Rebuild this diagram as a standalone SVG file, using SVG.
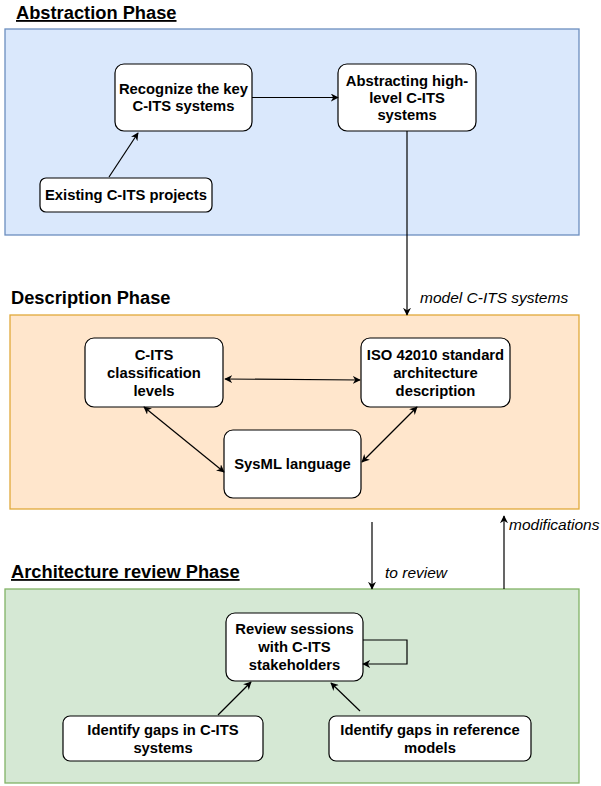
<svg xmlns="http://www.w3.org/2000/svg" width="601" height="786" viewBox="0 0 601 786">
<defs>
<marker id="ah" viewBox="0 0 10 10" refX="9" refY="5" markerWidth="8" markerHeight="8" markerUnits="userSpaceOnUse" orient="auto-start-reverse">
<path d="M0,0 L10,5 L0,10 L3,5 Z" fill="#000"/>
</marker>
</defs>
<style>
.title{font-family:"Liberation Sans",Arial,sans-serif;font-weight:bold;font-size:18.3px;fill:#000}
.node rect{fill:#fff;stroke:#000;stroke-width:1.2}
.node text{font-family:"Liberation Sans",Arial,sans-serif;font-weight:bold;font-size:14.8px;fill:#000;text-anchor:middle}
.lbl{font-family:"Liberation Sans",Arial,sans-serif;font-style:italic;font-size:15.5px;fill:#000}
.conn path{fill:none;stroke:#000;stroke-width:1.2}
</style>
<rect id="phase1" x="5" y="29" width="574" height="206" fill="#dae8fc" stroke="#6c8ebf" stroke-width="1.3"/>
<rect id="phase2" x="10" y="315" width="569" height="194" fill="#ffe6cc" stroke="#e0a93a" stroke-width="1.3"/>
<rect id="phase3" x="5" y="589" width="574" height="194" fill="#d5e8d4" stroke="#82b366" stroke-width="1.3"/>
<text class="title" x="16" y="19" text-decoration="underline">Abstraction Phase</text>
<text class="title" x="11" y="304">Description Phase</text>
<text class="title" x="11" y="578" text-decoration="underline">Architecture review Phase</text>
<text class="lbl" x="420" y="303">model C-ITS systems</text>
<text class="lbl" x="385" y="578">to review</text>
<text class="lbl" x="509" y="530">modifications</text>
<g id="n1" class="node"><rect x="115" y="64" width="137" height="67" rx="9"/><text x="183.5" y="94">Recognize the key</text><text x="183.5" y="111">C-ITS systems</text></g>
<g id="n2" class="node"><rect x="338" y="64" width="138" height="67" rx="9"/><text x="407" y="86">Abstracting high-</text><text x="407" y="103">level C-ITS</text><text x="407" y="120">systems</text></g>
<g id="n3" class="node"><rect x="40" y="178" width="172" height="34" rx="6"/><text x="126" y="200">Existing C-ITS projects</text></g>
<g id="n4" class="node"><rect x="85" y="338" width="138" height="69" rx="9"/><text x="154" y="360">C-ITS</text><text x="154" y="378">classification</text><text x="154" y="396">levels</text></g>
<g id="n5" class="node"><rect x="361" y="338" width="149" height="69" rx="9"/><text x="435.5" y="360">ISO 42010 standard</text><text x="435.5" y="378">architecture</text><text x="435.5" y="396">description</text></g>
<g id="n6" class="node"><rect x="224" y="430" width="137" height="68" rx="9"/><text x="292.5" y="469">SysML language</text></g>
<g id="n7" class="node"><rect x="226" y="613" width="137" height="68" rx="9"/><text x="294.5" y="634">Review sessions</text><text x="294.5" y="652">with C-ITS</text><text x="294.5" y="670">stakeholders</text></g>
<g id="n8" class="node"><rect x="63" y="716" width="200" height="45" rx="7"/><text x="163" y="735">Identify gaps in C-ITS</text><text x="163" y="753">systems</text></g>
<g id="n9" class="node"><rect x="329" y="716" width="202" height="45" rx="7"/><text x="430" y="735">Identify gaps in reference</text><text x="430" y="753">models</text></g>
<g id="connectors" class="conn">
<path d="M252,97.5 L338,97.5" marker-end="url(#ah)"/>
<path d="M109,177 L138,133" marker-end="url(#ah)"/>
<path d="M407,131 L407,315" marker-end="url(#ah)"/>
<path d="M225,379 L360,380" marker-start="url(#ah)" marker-end="url(#ah)"/>
<path d="M144,407 L224,472" marker-start="url(#ah)" marker-end="url(#ah)"/>
<path d="M417,407 L362,462" marker-start="url(#ah)" marker-end="url(#ah)"/>
<path d="M372,522 L372,589" marker-end="url(#ah)"/>
<path d="M504,589 L504,516" marker-end="url(#ah)"/>
<path d="M363,640 L407,640 L407,664 L363,664" marker-end="url(#ah)"/>
<path d="M218,715 L251,682" marker-end="url(#ah)"/>
<path d="M360,711 L331,683" marker-end="url(#ah)"/>
</g>
</svg>
